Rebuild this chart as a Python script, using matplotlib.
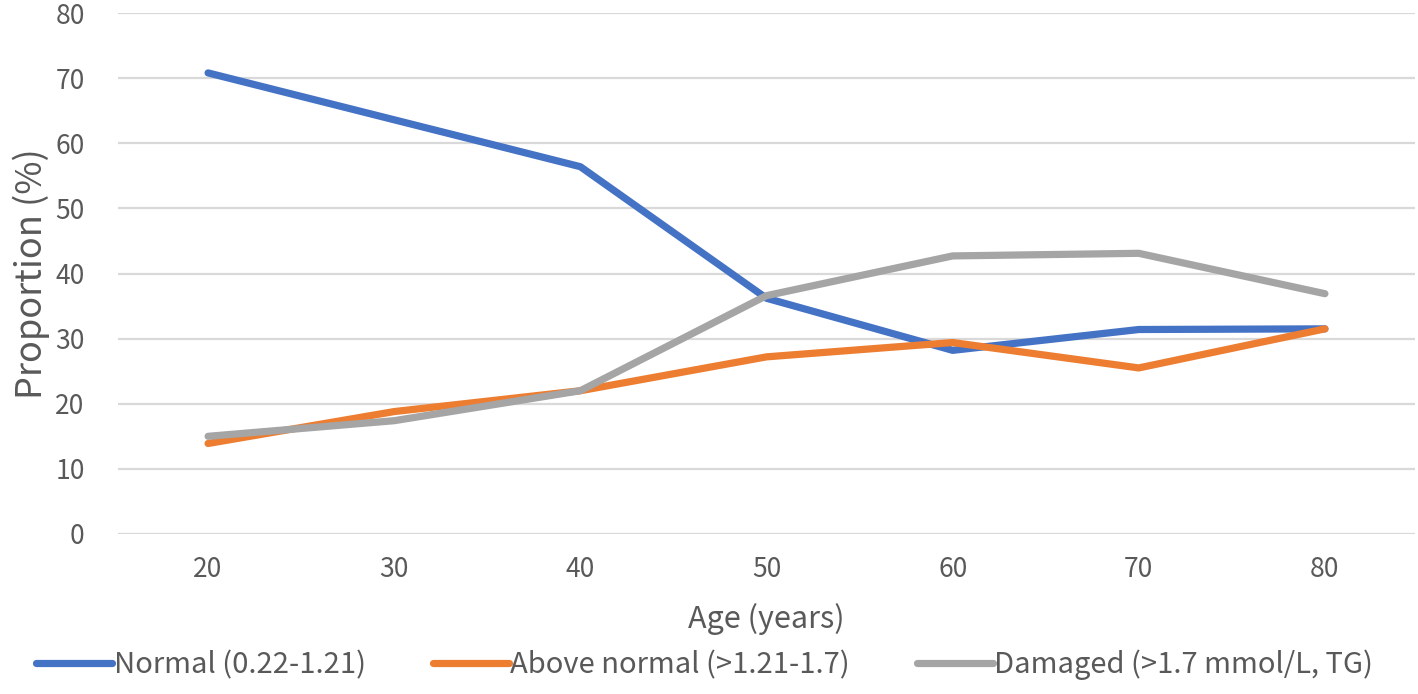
import matplotlib
matplotlib.use('Agg')
import matplotlib.pyplot as plt

ages = ['20', '30', '40', '50', '60', '70', '80']
normal = [70.8, 63.6, 56.4, 36.2, 28.2, 31.4, 31.5]
above_normal = [13.9, 18.8, 22.0, 27.2, 29.4, 25.5, 31.5]
damaged = [15.0, 17.4, 22.0, 36.6, 42.7, 43.1, 36.9]
labels = ['Normal (0.22-1.21)', 'Above normal (>1.21-1.7)', 'Damaged (>1.7 mmol/L, TG)']
colors = ['#4472C4', '#ED7D31', '#A5A5A5']

plt.rcParams['font.family'] = ['Noto Sans CJK SC', 'DejaVu Sans']
txt = '#595959'

fig = plt.figure(figsize=(14.18, 6.94), dpi=100)
ax = fig.add_axes([118 / 1418, 1 - 534 / 694, (1415 - 118) / 1418, (534 - 13) / 694])

x = range(len(ages))
for series, lab, col in zip([normal, above_normal, damaged], labels, colors):
    ax.plot(x, series, color=col, linewidth=5.2, label=lab,
            solid_capstyle='round', solid_joinstyle='round', zorder=3)

ax.set_xlim(-0.484, 6.484)
ax.set_ylim(0, 80)
ax.set_yticks(range(0, 81, 10))
ax.set_xticks(list(x))
ax.set_xticklabels(ages)
ax.grid(axis='y', color='#d9d9d9', linewidth=1.6)
ax.set_axisbelow(True)
for s in ax.spines.values():
    s.set_visible(False)
ax.tick_params(length=0, labelsize=19, labelcolor=txt)
ax.tick_params(axis='x', pad=16)
ax.tick_params(axis='y', pad=24)
ax.set_xlabel('Age (years)', fontsize=22, color=txt, labelpad=14)
ax.set_ylabel('Proportion (%)', fontsize=26, color=txt, labelpad=4)

fig.legend(loc='lower center', bbox_to_anchor=(0.497, -0.018), ncol=3, frameon=False,
           fontsize=21, labelcolor=txt, handlelength=2.6, handletextpad=0.05,
           columnspacing=2.3)

fig.savefig('out.png', dpi=100)
